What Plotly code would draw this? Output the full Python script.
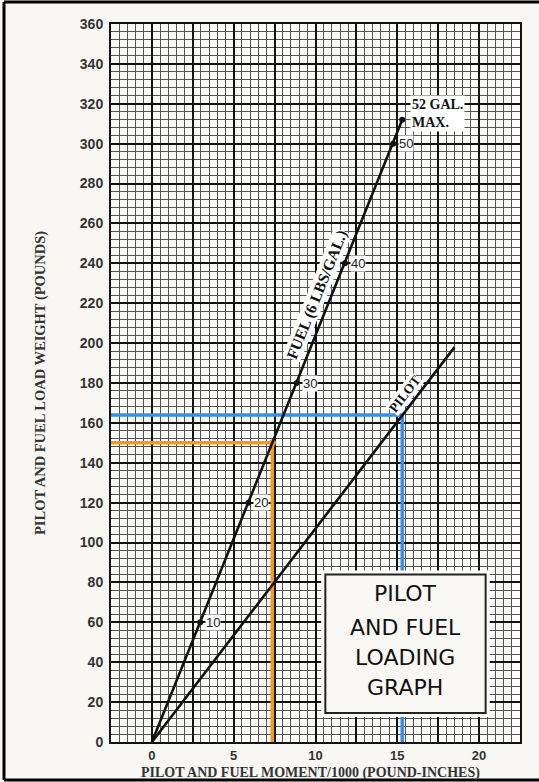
import numpy as np
import plotly.graph_objects as go

# ---------------- data ----------------
fuel_gallons = [10, 20, 30, 40, 50]
fuel_weights = [60, 120, 180, 240, 300]          # pounds
fuel_moments = [2.95, 5.9, 8.85, 11.8, 14.75]     # moment/1000
fuel_max_weight = 312
fuel_max_moment = 15.3

pilot_weights = [0, 198]
pilot_moments = [0, 18.5]

example_orange_weight = 150
example_orange_moment = 7.36
example_blue_weight = 164
example_blue_moment = 15.3

x_tick_vals = [-2.5, 0, 2.5, 5, 7.5, 10, 12.5, 15, 17.5, 20, 22.5]
x_tick_text = ["", "0", "", "5", "", "10", "", "15", "", "20", ""]
y_tick_vals = list(range(0, 361, 20))
y_tick_text = [str(v) for v in y_tick_vals]

X_RANGE = [-2.5, 22.5]
Y_RANGE = [0, 360]

# ---------------- style ----------------
ORANGE = "#F29B17"
BLUE = "#3A8EE6"
PAPER = "#F8F7F3"
SERIF = "Liberation Serif"
SANS = "Liberation Sans"

fig = go.Figure()

# example lines (orange & blue)
fig.add_trace(go.Scatter(
    x=[X_RANGE[0], example_orange_moment, example_orange_moment],
    y=[example_orange_weight, example_orange_weight, 0],
    mode="lines", line=dict(color=ORANGE, width=3.5), hoverinfo="skip"))
fig.add_trace(go.Scatter(
    x=[X_RANGE[0], example_blue_moment, example_blue_moment],
    y=[example_blue_weight, example_blue_weight, 0],
    mode="lines", line=dict(color=BLUE, width=3.5), hoverinfo="skip"))
fig.add_trace(go.Scatter(
    x=[example_orange_moment], y=[example_orange_weight],
    mode="markers", marker=dict(color=ORANGE, size=7), hoverinfo="skip"))

# fuel line
fig.add_trace(go.Scatter(
    x=[0] + fuel_moments + [fuel_max_moment],
    y=[0] + fuel_weights + [fuel_max_weight],
    mode="lines", line=dict(color="#111111", width=2.6), hoverinfo="skip"))
fig.add_trace(go.Scatter(
    x=fuel_moments + [fuel_max_moment],
    y=fuel_weights + [fuel_max_weight],
    mode="markers", marker=dict(color="#111111", size=6), hoverinfo="skip"))

# pilot line
fig.add_trace(go.Scatter(
    x=pilot_moments, y=pilot_weights,
    mode="lines", line=dict(color="#111111", width=2.6), hoverinfo="skip"))

annotations = []
for g, w, m in zip(fuel_gallons, fuel_weights, fuel_moments):
    annotations.append(dict(
        x=m, y=w, xref="x", yref="y", text=str(g), showarrow=False,
        xanchor="left", yanchor="middle", xshift=5,
        font=dict(family=SANS, size=13, color="#222"),
        bgcolor="white", borderpad=0))

annotations.append(dict(
    x=fuel_max_moment, y=fuel_max_weight, xref="x", yref="y",
    text="52 GAL.<br>MAX.", showarrow=False, align="left",
    xanchor="left", yanchor="middle", xshift=8, yshift=6,
    font=dict(family=SERIF, size=14, color="#111", weight="bold"),
    bgcolor="white", borderpad=1))

annotations.append(dict(
    x=10.1, y=224, xref="x", yref="y", text="FUEL (6 LBS/GAL.)",
    showarrow=False, textangle=-68,
    font=dict(family=SERIF, size=15.5, color="#111", weight="bold"),
    bgcolor="white", borderpad=0))

annotations.append(dict(
    x=15.5, y=174.5, xref="x", yref="y", text="PILOT",
    showarrow=False, textangle=-52.5,
    font=dict(family=SERIF, size=13.5, color="#111", weight="bold"),
    bgcolor="white", borderpad=0))

# axis titles
annotations.append(dict(
    x=-0.1736, y=0.5, xref="paper", yref="paper",
    xanchor="center", yanchor="middle",
    text="PILOT AND FUEL LOAD WEIGHT (POUNDS)", showarrow=False,
    textangle=-90, font=dict(family=SERIF, size=14.5, color="#333", weight="bold")))
annotations.append(dict(
    x=0.4866, y=-0.0425, xref="paper", yref="paper",
    xanchor="center", yanchor="middle",
    text="PILOT AND FUEL MOMENT/1000 (POUND-INCHES)", showarrow=False,
    font=dict(family=SERIF, size=14, color="#333", weight="bold")))

# box title lines
box_lines = ["PILOT", "AND FUEL", "LOADING", "GRAPH"]
box_line_y = [74.5, 57.5, 42.5, 27.5]
for t, yy in zip(box_lines, box_line_y):
    annotations.append(dict(
        x=15.5, y=yy, xref="x", yref="y", text=t, showarrow=False,
        font=dict(family="DejaVu Sans", size=22, color="#111")))

shapes = [
    # white pad around box
    dict(type="rect", xref="x", yref="y", x0=10.35, x1=20.65, y0=12.5, y1=86,
         fillcolor="#FDFDFB", line=dict(width=0), layer="above"),
    dict(type="rect", xref="x", yref="y", x0=10.6, x1=20.4, y0=14.5, y1=84,
         fillcolor="#F9F8F4", line=dict(color="#222", width=2), layer="above"),
    # outer image frame
    dict(type="line", xref="paper", yref="paper", x0=-0.2616, x1=-0.2616, y0=-0.0529, y1=1.0306,
         line=dict(color="black", width=3)),
    dict(type="line", xref="paper", yref="paper", x0=-0.2616, x1=1.05, y0=1.0306, y1=1.0306,
         line=dict(color="black", width=3)),
    dict(type="line", xref="paper", yref="paper", x0=-0.2616, x1=1.05, y0=-0.0529, y1=-0.0529,
         line=dict(color="black", width=3)),
]

fig.update_layout(
    width=539, height=782,
    margin=dict(l=111, r=19, t=24, b=40),
    paper_bgcolor=PAPER, plot_bgcolor="#FDFDFB",
    showlegend=False,
    annotations=annotations, shapes=shapes,
    xaxis=dict(range=X_RANGE, tickvals=x_tick_vals, ticktext=x_tick_text,
               showgrid=True, gridcolor="#111", gridwidth=1.6,
               minor=dict(tick0=0, dtick=0.5, showgrid=True, gridcolor="#555", gridwidth=1),
               showline=True, linecolor="#111", linewidth=2, mirror=True, zeroline=False,
               ticks="", ticklen=0,
               tickfont=dict(family=SANS, size=13, color="#333", weight="bold")),
    yaxis=dict(range=Y_RANGE, tickvals=y_tick_vals, ticktext=y_tick_text,
               showgrid=True, gridcolor="#111", gridwidth=1.6,
               minor=dict(tick0=0, dtick=4, showgrid=True, gridcolor="#555", gridwidth=1),
               showline=True, linecolor="#111", linewidth=2, mirror=True, zeroline=False,
               ticks="outside", ticklen=3, tickcolor="rgba(0,0,0,0)",
               tickfont=dict(family=SANS, size=14, color="#333", weight="bold")),
)

fig.write_html("out.html", config={"displayModeBar": False},
               post_script="document.body.style.margin='0';document.body.style.overflow='hidden';")
